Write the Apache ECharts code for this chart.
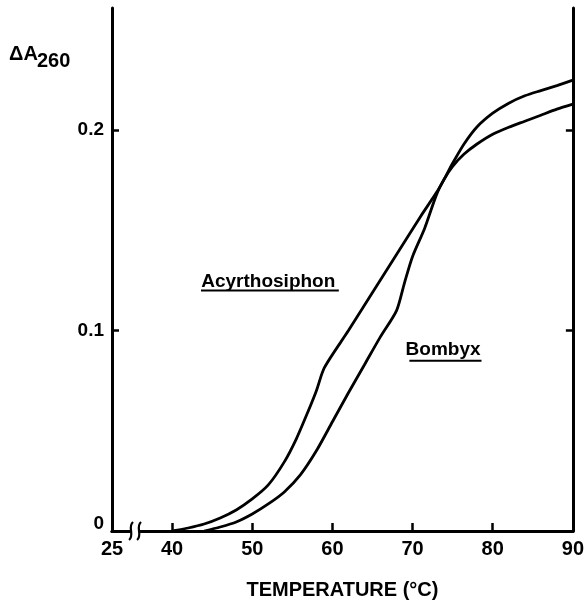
<!DOCTYPE html>
<html>
<head>
<meta charset="utf-8">
<script src="https://cdn.jsdelivr.net/npm/echarts@6.0.0/dist/echarts.min.js"></script>
<style>
  html, body { margin: 0; padding: 0; background: #fff; }
  #main { width: 587px; height: 605px; }
</style>
</head>
<body>
<div id="main"></div>
<script>
// Values (temperature in °C, delta A260)
const acyrTemps = [40, 42, 44, 46, 48, 50, 52, 54, 55.5, 57, 58, 59, 62, 65, 68, 71, 73, 74, 75, 76.4, 78, 80, 82, 84, 86, 88, 90];
const acyrValues = [0, 0.0015, 0.0035, 0.0065, 0.0105, 0.016, 0.023, 0.0345, 0.046, 0.06, 0.07, 0.0815, 0.1, 0.119, 0.138, 0.157, 0.169, 0.176, 0.1835, 0.193, 0.2015, 0.2085, 0.2135, 0.2172, 0.2198, 0.2223, 0.225];

const bombTemps = [44, 46, 48, 50, 52, 54, 56, 58, 60, 62, 64, 66, 68, 69, 70, 71.5, 73, 74, 75, 76.4, 78, 80, 82, 84, 86, 88, 90];
const bombValues = [0, 0.002, 0.0045, 0.0085, 0.0135, 0.0195, 0.028, 0.04, 0.0545, 0.069, 0.083, 0.097, 0.11, 0.124, 0.137, 0.151, 0.168, 0.176, 0.182, 0.188, 0.193, 0.198, 0.2015, 0.2045, 0.2075, 0.2105, 0.213];

// x axis is broken between 25 and 40; the "25" sits at the left edge
const xTicks = [40, 50, 60, 70, 80, 90];
const xStart = 32.5;
const yTicks = [0, 0.1, 0.2];

const chart = echarts.init(document.getElementById('main'), null, { renderer: 'canvas' });

const FONT = 'Liberation Sans';
const axisLine = { lineStyle: { color: '#000', width: 3 } };

function pairs(xs, ys) {
    return xs.map((x, i) => [x, ys[i]]);
}

const option = {
    backgroundColor: '#fff',
    animation: false,
    grid: { left: 112, right: 10, top: 8, bottom: 72 },
    xAxis: [{
        type: 'value',
        min: xStart,
        max: 90,
        position: 'bottom',
        axisLine: axisLine,
        axisTick: { inside: true, length: 8, lineStyle: { color: '#000', width: 2.5 }, customValues: xTicks },
        axisLabel: {
            customValues: [xStart].concat(xTicks),
            formatter: v => (v === xStart ? '25' : String(v)),
            color: '#000', fontFamily: FONT, fontWeight: 'bold', fontSize: 20, margin: 8
        },
        splitLine: { show: false },
        name: 'TEMPERATURE (°C)',
        nameLocation: 'middle',
        nameGap: 49,
        nameTextStyle: { color: '#000', fontFamily: FONT, fontWeight: 'bold', fontSize: 20 }
    }, {
        type: 'value',
        min: xStart,
        max: 90,
        position: 'top',
        axisLine: axisLine,
        axisTick: { show: false },
        axisLabel: { show: false },
        splitLine: { show: false }
    }],
    yAxis: [{
        type: 'value',
        min: 0,
        max: 0.261,
        position: 'left',
        axisLine: { show: true, lineStyle: { color: '#000', width: 3 } },
        axisTick: { inside: true, length: 7, lineStyle: { color: '#000', width: 2.5 }, customValues: yTicks.slice(1) },
        axisLabel: {
            customValues: yTicks,
            formatter: v => (v === 0 ? '{z|0}' : v.toFixed(1)),
            color: '#000', fontFamily: FONT, fontWeight: 'bold', fontSize: 19, margin: 8,
            rich: { z: { color: '#000', fontFamily: FONT, fontWeight: 'bold', fontSize: 19, padding: [0, 0, 14, 0] } }
        },
        splitLine: { show: false }
    }, {
        type: 'value',
        min: 0,
        max: 0.261,
        position: 'right',
        axisLine: { show: true, lineStyle: { color: '#000', width: 3 } },
        axisTick: { inside: true, length: 7, lineStyle: { color: '#000', width: 2.5 }, customValues: yTicks.slice(1) },
        axisLabel: { show: false },
        splitLine: { show: false }
    }],
    series: [{
        name: 'Acyrthosiphon',
        type: 'line',
        data: pairs(acyrTemps, acyrValues),
        smooth: 0.25,
        showSymbol: false,
        lineStyle: { color: '#000', width: 2.8 },
        z: 5
    }, {
        name: 'Bombyx',
        type: 'line',
        data: pairs(bombTemps, bombValues),
        smooth: 0.25,
        showSymbol: false,
        lineStyle: { color: '#000', width: 2.8 },
        z: 5
    }]
};
chart.setOption(option);

// curve labels with underlines, anchored in data space
const px = (t, v) => chart.convertToPixel({ gridIndex: 0 }, [t, v]);
const acyrPos = px(52.0, 0.1245);
const acyrL = px(43.6, 0.12), acyrR = px(60.8, 0.12);
const bombPos = px(73.8, 0.0905);
const bombL = px(69.6, 0.085), bombR = px(78.6, 0.085);
const brk = px(35.5, 0);

const labelStyle = { fill: '#000', font: 'bold 19px "Liberation Sans"', align: 'center', verticalAlign: 'middle' };

chart.setOption({
    graphic: [
        { type: 'text', left: 9, top: 44, style: { text: 'ΔA', fill: '#000', font: 'bold 20px "Liberation Sans"' } },
        { type: 'text', left: 37, top: 51, style: { text: '260', fill: '#000', font: 'bold 20px "Liberation Sans"' } },
        { type: 'text', x: acyrPos[0], y: acyrPos[1], style: Object.assign({ text: 'Acyrthosiphon' }, labelStyle) },
        { type: 'line', shape: { x1: acyrL[0], y1: acyrL[1], x2: acyrR[0], y2: acyrR[1] }, style: { stroke: '#000', lineWidth: 2 } },
        { type: 'text', x: bombPos[0], y: bombPos[1], style: Object.assign({ text: 'Bombyx' }, labelStyle) },
        { type: 'line', shape: { x1: bombL[0], y1: bombL[1], x2: bombR[0], y2: bombR[1] }, style: { stroke: '#000', lineWidth: 2 } },
        // axis break mark
        { type: 'rect', shape: { x: brk[0] - 4, y: brk[1] - 3, width: 8, height: 6 }, style: { fill: '#fff' }, z: 100 },
        { type: 'bezierCurve', shape: { x1: brk[0] - 7, y1: brk[1] + 9, cpx1: brk[0] - 1, cpy1: brk[1] + 4, cpx2: brk[0] - 9, cpy2: brk[1] - 4, x2: brk[0] - 3, y2: brk[1] - 9 }, style: { stroke: '#000', lineWidth: 2.2, fill: null }, z: 101 },
        { type: 'bezierCurve', shape: { x1: brk[0] + 1, y1: brk[1] + 9, cpx1: brk[0] + 7, cpy1: brk[1] + 4, cpx2: brk[0] - 1, cpy2: brk[1] - 4, x2: brk[0] + 5, y2: brk[1] - 9 }, style: { stroke: '#000', lineWidth: 2.2, fill: null }, z: 101 }
    ]
});
</script>
</body>
</html>
